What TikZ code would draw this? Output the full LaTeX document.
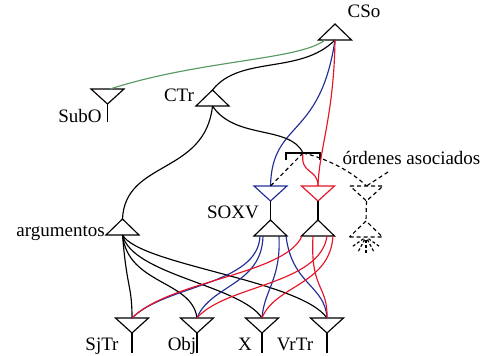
\documentclass[tikz,border=0pt]{standalone}
\usepackage{fontspec}
\setmainfont{Liberation Serif}
\usetikzlibrary{calc}
\definecolor{myblue}{RGB}{35,45,150}
\definecolor{myred}{RGB}{230,20,40}
\definecolor{mygreen}{RGB}{90,155,100}
\tikzset{
  lab/.style={font=\fontsize{19}{22}\selectfont, inner sep=0pt},
  conn/.style={line width=1.15pt},
  dconn/.style={line width=1.15pt, dash pattern=on 4pt off 3pt},
  up/.pic={\draw[line width=1.15pt] (-16.5,0) -- (16.5,0) -- (0,-16) -- cycle;
           \coordinate (-b) at (0,0); \coordinate (-a) at (0,-16);},
  dn/.pic={\draw[line width=1.15pt] (-16.5,0) -- (16.5,0) -- (0,15) -- cycle;
           \coordinate (-t) at (0,0); \coordinate (-a) at (0,15);},
}
\begin{document}
\begin{tikzpicture}[x=1pt,y=-1pt]
\useasboundingbox (0,0) rectangle (483,356);
% triangles
\pic (cso) at (335,40) {up};
\pic (subo) at (107.5,89) {dn};
\pic (ctr) at (212.5,106) {up};
\pic[myblue] (bdn) at (270.5,186) {dn};
\pic (soxv) at (270.5,236) {up};
\pic[myred] (rdn) at (318,186) {dn};
\pic (rup) at (318,236) {up};
\pic[dash pattern=on 4pt off 3pt] (ddn) at (366.5,186) {dn};
\pic[dash pattern=on 4pt off 3pt] (dup) at (366,237) {up};
\pic (args) at (122.5,235) {up};
\pic (sjtr) at (132,318) {dn};
\pic (obj) at (197,318) {dn};
\pic (x) at (262,318) {dn};
\pic (vrtr) at (327,318) {dn};
% stem ends
\coordinate (subo-e) at (107.5,122);
\coordinate (sjtr-e) at (132,353);
\coordinate (obj-e) at (197,353);
\coordinate (x-e) at (262,353);
\coordinate (vrtr-e) at (327,353);
\draw[conn] (subo-a) -- (subo-e);
\draw[conn] (sjtr-a) -- (sjtr-e);
\draw[conn] (obj-a) -- (obj-e);
\draw[conn] (x-a) -- (x-e);
\draw[conn] (vrtr-a) -- (vrtr-e);
\draw[conn] (bdn-a) -- (soxv-a);
\draw[conn] (rdn-a) -- (rup-a);
\draw[dconn] (ddn-a) -- (dup-a);
% bracket
\coordinate (brk) at (303,153);
\coordinate (brkl) at (286,153);
\coordinate (brkr) at (320,153);
\draw[conn] ($(brkl)+(0,7)$) -- (brkl) -- (brkr) -- ($(brkr)+(0,7)$);
% labels
\node[lab, anchor=base] (lcso) at (364,17) {CSo};
\node[lab, anchor=base] (lctr) at (179,101) {CTr};
\node[lab, anchor=base] (lsubo) at (80,122) {SubO};
\node[lab, anchor=base] (lord) at (411.5,164) {órdenes asociados};
\node[lab, anchor=base] (lsoxv) at (233,218) {SOXV};
\node[lab, anchor=base east] (largs) at (105,236) {argumentos};
\node[lab, anchor=base] (lsjtr) at (102,350) {SjTr};
\node[lab, anchor=base] (lobj) at (182,350) {Obj};
\node[lab, anchor=base] (lx) at (245,350) {X};
\node[lab, anchor=base] (lvrtr) at (295,350) {VrTr};
% upper connectors
\coordinate (csog) at (325,40);
\coordinate (subog) at (110,89);
\draw[conn, mygreen] (subog) .. controls (200,60) and (300,60) .. (csog);
\draw[conn] (ctr-a) .. controls (240,55) and (300,75) .. (cso-b);
\draw[conn, myblue] (cso-b) .. controls (320,140) and (272,120) .. (bdn-t);
\draw[conn, myred] (cso-b) .. controls (334,115) and (319,150) .. (rdn-t);
\draw[conn] (ctr-b) .. controls (235,140) and (290,125) .. (brk);
\draw[conn] (ctr-b) .. controls (205,175) and (125,160) .. (args-a);
\draw[conn, myred] (brk) .. controls (300,175) and (318,168) .. (rdn-t);
\draw[dconn] (brk) -- (bdn-t);
\draw[dconn] (brk) .. controls (325,158) and (350,170) .. (ddn-t);
\coordinate (ordpt) at (388,172);
\draw[dconn] (ordpt) -- (ddn-t);
% dashed rays
\foreach \ang in {145,118,90,62,35}
  \draw[dconn, dash pattern=on 3pt off 2pt] ($(dup-b)+(\ang:3)$) -- ($(dup-b)+(\ang:16)$);
% argumentos to bottom
\draw[conn] (args-b) .. controls (127,290) and (132,285) .. (sjtr-t);
\draw[conn] (args-b) .. controls (128,285) and (192,280) .. (obj-t);
\draw[conn] (args-b) .. controls (132,275) and (240,285) .. (x-t);
\draw[conn] (args-b) .. controls (140,265) and (300,280) .. (vrtr-t);
% blue
\draw[conn, myblue] (260,236) .. controls (258,285) and (165,285) .. (sjtr-t);
\draw[conn, myblue] (263,236) .. controls (262,285) and (210,285) .. (obj-t);
\draw[conn, myblue] (279,236) .. controls (281,280) and (264,290) .. (x-t);
\draw[conn, myblue] (286,236) .. controls (292,285) and (325,285) .. (vrtr-t);
% red
\draw[conn, myred] (302,236) .. controls (285,275) and (170,280) .. (sjtr-t);
\draw[conn, myred] (327,236) .. controls (320,285) and (225,285) .. (obj-t);
\draw[conn, myred] (333,236) .. controls (330,285) and (275,285) .. (x-t);
\draw[conn, myred] (313,236) .. controls (310,290) and (328,285) .. (vrtr-t);
\end{tikzpicture}
\end{document}
